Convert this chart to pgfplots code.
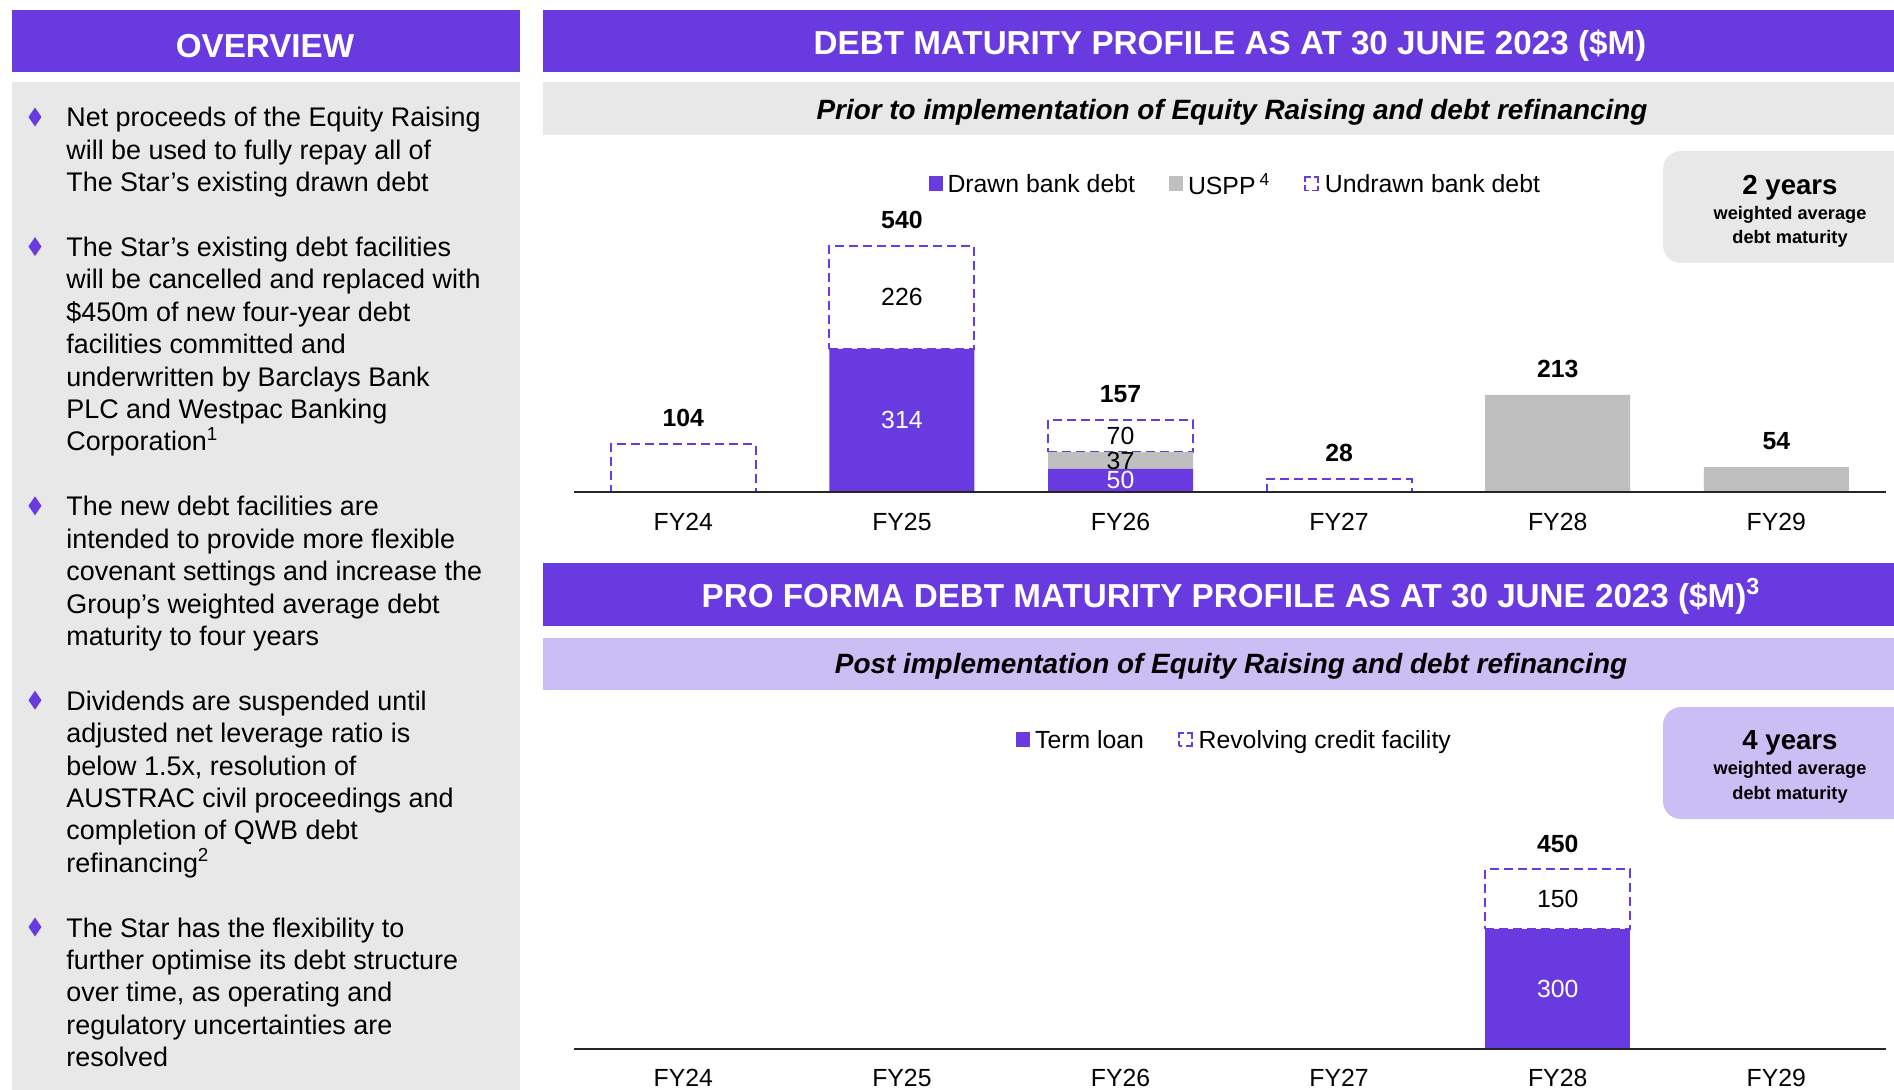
\documentclass[border=0pt]{standalone}
\usepackage{fontspec}
\setmainfont{Liberation Sans}
\usepackage{pgfplots}
\pgfplotsset{compat=1.18}
\definecolor{starpurple}{RGB}{106,58,225}
\definecolor{panelgrey}{RGB}{232,232,232}
\definecolor{lav}{RGB}{203,190,244}
\definecolor{bargrey}{RGB}{191,191,191}
\newcommand\bodyfont{\fontsize{13.45}{16}\selectfont}
\newcommand\hdrfont{\fontsize{16.6}{20}\selectfont\bfseries}
\newcommand\subfont{\fontsize{13.95}{16}\selectfont\bfseries\itshape}
\newcommand\lblfont{\fontsize{12.4}{15}\selectfont}
\newcommand\bl[2]{\node[anchor=base west,inner sep=0pt,font=\bodyfont] at (66,#1) {#2};}
\newcommand\dm[1]{\fill[starpurple] (35,#1-9.5) -- (41.5,#1) -- (35,#1+9.5) -- (28.5,#1) -- cycle;}
\pgfplotsset{
  debtaxis/.style={
    anchor=south west, xmin=-0.5, xmax=5.5, ymin=0, ymax=600,
    x=109.3pt, clip=false,
    xtick={0,1,2,3,4,5}, xticklabels={FY24,FY25,FY26,FY27,FY28,FY29},
    major tick length=0pt,
    axis x line*=bottom, axis y line=none,
    axis line style={line width=1pt,draw=black!85},
    xticklabel style={font=\lblfont, anchor=center, yshift=-15pt},
    ytick=\empty,
    axis on top,
    legend cell align=left,
  },
  labelaxis/.style={
    anchor=south west, xmin=-0.5, xmax=5.5, ymin=0, ymax=600,
    x=109.3pt, clip=false, hide axis, ybar, bar width=72.5pt,
  },
  lbl/.style={draw=none, fill=none, bar shift=0pt, point meta=explicit symbolic,
    nodes near coords,
    every node near coord/.append style={anchor=center, font=\lblfont, inner sep=0pt, #1}},
  lgd/.style={legend style={at={#1}, anchor=center, draw=none, fill=none, legend columns=-1,
    font=\lblfont, column sep=0pt, nodes={inner sep=0pt},
    /tikz/every even column/.append style={column sep=17pt}}},
  sqimg/.style={legend image code/.code={\fill[#1] (0pt,-3pt) rectangle (7pt,4.5pt); \path (9.5pt,0pt);}},
  dashimg/.style={legend image code/.code={\path[draw=starpurple, fill=none, line width=0.8pt, dash pattern=on 5.2pt off 1.6pt, dash phase=2.6pt] (0.6pt,-2.6pt) rectangle (7.1pt,4.1pt); \path (10pt,0pt);}},
}
\begin{document}
\begin{tikzpicture}[x=0.5pt,y=-0.5pt]
\useasboundingbox (0,0) rectangle (1894,1090);
\fill[white] (0,0) rectangle (1894,1090);
% ---------- left panel
\fill[starpurple] (12,10) rectangle (520,72);
\node[text=white,font=\hdrfont] at (265,46) {OVERVIEW};
\fill[panelgrey] (12,82) rectangle (520,1095);
\dm{117}
\bl{127}{Net proceeds of the Equity Raising}
\bl{159.4}{will be used to fully repay all of}
\bl{191.8}{The Star’s existing drawn debt}
\dm{246.6}
\bl{256.6}{The Star’s existing debt facilities}
\bl{289}{will be cancelled and replaced with}
\bl{321.4}{\$450m of new four-year debt}
\bl{353.8}{facilities committed and}
\bl{386.2}{underwritten by Barclays Bank}
\bl{418.6}{PLC and Westpac Banking}
\bl{451}{Corporation\textsuperscript{1}}
\dm{505.8}
\bl{515.8}{The new debt facilities are}
\bl{548.2}{intended to provide more flexible}
\bl{580.6}{covenant settings and increase the}
\bl{613}{Group’s weighted average debt}
\bl{645.4}{maturity to four years}
\dm{700.2}
\bl{710.2}{Dividends are suspended until}
\bl{742.6}{adjusted net leverage ratio is}
\bl{775}{below 1.5x, resolution of}
\bl{807.4}{AUSTRAC civil proceedings and}
\bl{839.8}{completion of QWB debt}
\bl{872.2}{refinancing\textsuperscript{2}}
\dm{927}
\bl{937}{The Star has the flexibility to}
\bl{969.4}{further optimise its debt structure}
\bl{1001.8}{over time, as operating and}
\bl{1034.2}{regulatory uncertainties are}
\bl{1066.6}{resolved}
% ---------- right headers
\fill[starpurple] (543,10) rectangle (1900,72);
\node[text=white,font=\hdrfont] at (1230,46) {DEBT MATURITY PROFILE AS AT 30 JUNE 2023 (\$M)};
\fill[panelgrey] (543,82) rectangle (1900,135);
\node[font=\subfont] at (1232,112.5) {Prior to implementation of Equity Raising and debt refinancing};
\fill[panelgrey, rounded corners=9pt] (1663,151) rectangle (1920,263);
\node[font=\fontsize{13.8}{16}\selectfont\bfseries] at (1790,187.5) {2 years};
\node[font=\fontsize{9.1}{11}\selectfont\bfseries] at (1790,215) {weighted average};
\node[font=\fontsize{9.1}{11}\selectfont\bfseries] at (1790,238.5) {debt maturity};
\fill[starpurple] (543,563) rectangle (1900,626);
\node[text=white,font=\hdrfont] at (1231,596.5) {PRO FORMA DEBT MATURITY PROFILE AS AT 30 JUNE 2023 (\$M)\textsuperscript{3}};
\fill[lav] (543,638) rectangle (1900,690);
\node[font=\subfont] at (1231,666.5) {Post implementation of Equity Raising and debt refinancing};
\fill[lav, rounded corners=9pt] (1663,707) rectangle (1920,819);
\node[font=\fontsize{13.8}{16}\selectfont\bfseries] at (1790,742.5) {4 years};
\node[font=\fontsize{9.1}{11}\selectfont\bfseries] at (1790,770) {weighted average};
\node[font=\fontsize{9.1}{11}\selectfont\bfseries] at (1790,794.5) {debt maturity};
% ---------- chart 1
\begin{axis}[debtaxis, at={(287pt,-245.85pt)}, y=0.2275pt, ybar stacked, bar width=72.5pt,
  lgd={(0.5034,1.1218)}]
\addplot[fill=starpurple, draw=none, sqimg=starpurple]
  coordinates {(0,0) (1,314) (2,50) (3,0) (4,0) (5,0)};
\addlegendentry{Drawn bank debt}
\addplot[fill=bargrey, draw=none, sqimg=bargrey]
  coordinates {(0,0) (1,0) (2,37) (3,0) (4,213) (5,54)};
\addlegendentry{USPP\,\textsuperscript{4}\hspace{-7pt}}
\addplot[fill=white, draw=starpurple, line width=1pt, dash pattern=on 4.5pt off 2.5pt, dashimg]
  coordinates {(0,104) (1,226) (2,70) (3,28)};
\addlegendentry{Undrawn bank debt}
\end{axis}
\begin{axis}[labelaxis, at={(287pt,-245.85pt)}, y=0.2275pt]
\addplot[lbl={text=white}] coordinates {(1,157)[314] (2,25)[50]};
\addplot[lbl={text=black}] coordinates {(1,427)[226] (2,68.5)[37] (2,122)[70]};
\addplot[lbl={text=black, font=\lblfont\bfseries, yshift=13pt}] coordinates {(0,104)[104] (1,540)[540] (2,157)[157] (3,28)[28] (4,213)[213] (5,54)[54]};
\end{axis}
% ---------- chart 2
\begin{axis}[debtaxis, at={(287pt,-524.5pt)}, y=0.1995pt, ybar stacked, bar width=72.5pt,
  xticklabel style={yshift=0.5pt},
  lgd={(0.5028,1.2866)}]
\addplot[fill=starpurple, draw=none, sqimg=starpurple]
  coordinates {(4,300)};
\addlegendentry{Term loan}
\addplot[fill=white, draw=starpurple, line width=1pt, dash pattern=on 4.5pt off 2.5pt, dashimg]
  coordinates {(4,150)};
\addlegendentry{Revolving credit facility}
\end{axis}
\begin{axis}[labelaxis, at={(287pt,-524.5pt)}, y=0.1995pt]
\addplot[lbl={text=white}] coordinates {(4,150)[300]};
\addplot[lbl={text=black}] coordinates {(4,375)[150]};
\addplot[lbl={text=black, font=\lblfont\bfseries, yshift=12.5pt}] coordinates {(4,450)[450]};
\end{axis}
\end{tikzpicture}
\end{document}
